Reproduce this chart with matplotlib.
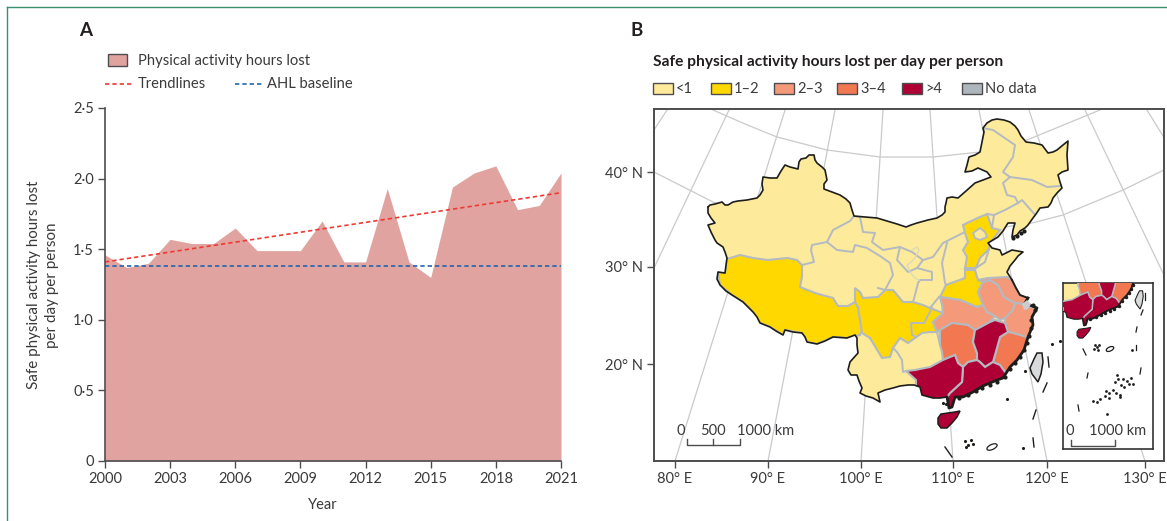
import matplotlib
matplotlib.use('Agg')
import matplotlib.pyplot as plt
from matplotlib.patches import Polygon, Rectangle, Ellipse

plt.rcParams['font.family'] = ['Lato', 'DejaVu Sans']

W, H = 1167, 521
TXT = '#3a3a3c'
AX = '#4d4d4f'
BORDER = '#B3BAC2'
BLACK = '#1d1d1b'

# ---- panel A data
years = list(range(2000, 2022))
hours_lost = [1.46, 1.37, 1.40, 1.57, 1.54, 1.54, 1.65, 1.49, 1.49, 1.49, 1.70,
              1.41, 1.41, 1.93, 1.41, 1.30, 1.94, 2.04, 2.09, 1.78, 1.81, 2.04]
trend_years = [2000, 2021]
trend_vals = [1.41, 1.90]
baseline_val = 1.38
a_xticks = [2000, 2003, 2006, 2009, 2012, 2015, 2018, 2021]
a_yticks = [0, 0.5, 1.0, 1.5, 2.0, 2.5]
a_ylabels = ['0', '0·5', '1·0', '1·5', '2·0', '2·5']

# ---- panel B legend
bin_labels = ['<1', '1–2', '2–3', '3–4', '>4', 'No data']
bin_colors = ['#FDEA9B', '#FFD800', '#F4997A', '#F27851', '#AF0036', '#AEB6BD']

# ---- map geometry in projected map units
north_border = [(708,207),(710,205),(715,204),(722,202),(725,205),(728,205),(733,202),(738,201),(747,200),(757,198),
    (760,195),(763,190),(762,184),(763,177),(770,178),(777,178),(781,171),(785,165),(790,167),(798,169),
    (799,162),(801,159),(806,158),(809,155),(814,155),(815,160),(817,163),(822,167),(825,170),(827,180),
    (824,184),(824,189),(832,192),(840,195),(846,199),(850,203),(852,210),(854,216),(865,217),(877,218),
    (887,221),(897,224),(906,227),(911,225),(917,223),(928,220),(937,218),(942,215),(945,212),(945,207),
    (946,203),(947,198),(952,197),(958,198),(966,191),(975,183),(983,180),(991,177),(987,172),(978,168),
    (972,171),(965,172),(967,165),(969,157),(975,155),(980,152),(982,142),(984,132),(983,128),(987,123),
    (992,120),(997,119),(1004,120),(1010,122),(1015,126),(1018,130),(1021,136),(1026,142),(1034,143),(1042,145),
    (1048,153),(1053,152),(1057,150),(1063,145),(1068,141),(1067,155),(1068,170),(1062,172),(1058,175),(1060,182),
    (1062,188),(1057,193),(1053,198),(1051,203),(1048,207),(1040,208),(1036,214),(1033,218),(1028,225),(1025,228),
    (1020,231),(1017,235),(1012,237),(1013,230),(1015,223),(1008,223),(1003,231),(998,237),(988,243),(992,248),
    (1000,250),(1002,255),(1012,250),(1023,252),(1018,256),(1015,260),(1010,266),(1007,272),(1012,280)]
jiangsu_coast = [(1012,280),(1016,288),(1020,295),(1028,298)]
se_coast = [(1028,298),(1025,303),(1037,308),(1032,317),(1033,325),(1028,337),(1024,350),(1017,360),
    (1010,367),(1003,378),(997,380),(983,386),(973,392),(963,397),(955,397),(952,407),(949,408),(947,397)]
south_border = [(947,397),(940,398),(933,398),(922,395),(920,387),(914,385),(908,385),(900,386),(893,388),(885,390),
    (878,393),(880,402),(873,398),(866,396),(860,393),(862,388),(859,381),(857,375),(851,375),(848,370),
    (850,362),(858,353),(857,345),(857,338),(855,335),(847,338),(833,337),(825,341),(817,344),(807,342),
    (805,337),(802,333),(793,332),(785,330),(783,335),(776,331),(770,327),(760,323),(757,317),(753,312),
    (743,302),(732,295),(726,291),(720,285),(717,279),(718,272),(725,273),(726,265),(727,258),(725,252),
    (723,247),(717,243),(715,240),(711,232),(708,225),(715,223),(711,218),(708,213),(708,207)]
taiwan = [(1042,353),(1037,353),(1034,359),(1030,368),(1032,374),(1035,378),(1038,382),(1041,374),(1043,362)]
hainan = [(938,418),(941,414),(948,413),(955,412),(960,411),(957,417),(952,423),(947,428),(941,428),(938,424)]
shanghai = [(1022,304),(1027,300),(1031,304),(1028,309),(1024,310)]

xizang = [(727,259),(740,255),(753,258),(768,260),(787,258),(797,260),(802,265),(802,277),(800,287),(815,293),
    (833,298),(838,306),(848,306),(855,302),(858,307),(862,330),(860,335),(847,338),(833,337),(817,344),
    (807,342),(802,333),(785,330),(783,335),(770,327),(760,323),(753,312),(743,302),(732,295),(720,285),(718,272),(725,273)]
sichuan = [(855,288),(860,292),(863,298),(878,297),(885,290),(893,290),(903,302),(913,302),(923,305),(930,308),
    (943,313),(933,322),(937,332),(930,332),(922,333),(908,343),(900,338),(893,348),(890,357),(882,358),
    (870,338),(862,333),(858,307),(855,302)]
hebei = [(967,223),(980,217),(987,214),(992,228),(1000,230),(990,243),(989,249),(980,258),(976,268),(965,268),
    (967,257),(963,250),(968,242),(965,233),(963,225)]
beijing = [(973,233),(980,228),(985,232),(987,237),(980,240),(975,238)]
henan = [(965,270),(975,270),(978,280),(983,282),(978,292),(983,305),(977,307),(960,300),(940,297),(946,285),(965,278)]
hubei = [(940,297),(960,300),(977,307),(983,305),(987,312),(995,316),(990,322),(975,330),(968,325),(952,323),
    (940,330),(937,332),(933,322),(943,313),(942,305)]
anhui = [(983,282),(990,280),(998,285),(1004,297),(1015,303),(1013,310),(1005,318),(1000,320),(995,316),(987,312),
    (983,305),(978,292)]
jiangsu = [(978,280),(988,278),(1007,277),(1012,280),(1020,295),(1040,300),(1023,304),(1015,303),(1004,297),(998,285),(990,280),(983,282)]
zhejiang = [(1015,303),(1023,304),(1040,310),(1040,330),(1025,338),(1013,333),(1008,332),(1005,323),(1005,318),(1013,310)]
hunan = [(940,330),(952,323),(968,325),(975,330),(973,342),(977,353),(977,360),(968,362),(963,367),(958,363),
    (955,355),(943,360),(942,352),(940,345)]
jiangxi = [(975,330),(990,322),(995,320),(1005,323),(1008,332),(1000,337),(997,348),(993,362),(985,367),(980,362),
    (977,360),(977,353),(973,342)]
fujian = [(1008,332),(1013,333),(1030,338),(1030,355),(1008,378),(1005,372),(1000,365),(993,362),(997,348),(1000,337)]
guangdong = [(963,367),(968,362),(977,360),(980,362),(985,367),(993,362),(1000,365),(1005,372),(1012,378),(985,395),
    (965,402),(955,412),(947,412),(947,397),(950,393),(962,382)]
guangxi = [(906,371),(915,370),(930,367),(943,360),(955,355),(958,363),(963,367),(962,382),(950,393),(947,397),
    (947,405),(925,405),(916,392),(916,380)]

province_fills = [(xizang, 1), (sichuan, 1), (hebei, 1), (henan, 1), (hubei, 2), (anhui, 2), (jiangsu, 2),
                  (zhejiang, 2), (hunan, 3), (fujian, 3), (jiangxi, 4), (guangdong, 4), (guangxi, 4)]

# borders between provinces of the lightest class
inner_borders = [
    [(802,265),(814,262),(811,250),(812,245),(827,242),(833,230),(850,221),(854,216)],
    [(827,242),(837,250),(853,252),(855,245),(867,248),(880,256),(890,263),(893,275),(885,290)],
    [(878,288),(885,290)],
    [(854,216),(860,217),(863,232),(875,233),(872,242),(883,250),(900,247),(897,260),(908,272),(917,268),
     (932,272),(932,280),(920,280),(918,283),(915,295),(913,302)],
    [(923,260),(933,257),(943,243),(963,233)],
    [(900,247),(912,252),(923,260),(917,268)],
    [(947,243),(942,263),(945,283),(946,285)],
    [(930,308),(939,297)],
    [(989,249),(985,262),(976,268)],
    [(992,228),(994,215),(987,214)],
    [(994,215),(1005,210),(1018,203),(1022,200),(1037,217)],
    [(1018,203),(1015,197),(1007,195),(1003,183),(1010,177),(1032,180),(1047,187),(1060,186)],
    [(1010,177),(1003,172),(1013,157),(1015,145),(993,130),(983,128)],
    [(893,348),(897,352),(902,360),(903,372),(906,371)],
    [(932,308),(924,323),(911,323),(912,335),(916,337)],
    [(940,345),(937,332)],
]
ningxia = [(912,250),(917,247),(919,250),(915,258),(910,263),(907,265),(910,272),(915,278),(919,280)]

# meridians and parallels
meridians = [[(667,110),(654,130)], [(729,110),(654,268)], [(785,110),(675,461)], [(835,110),(768,461)],
             [(883,110),(861,461)], [(930,110),(953,461)], [(979,110),(1047,461)], [(1029,110),(1145,461)],
             [(1085,110),(1163,273)], [(1147,110),(1163,136)]]
parallels = [[(713,110),(745,124),(777,137),(827,150),(880,157),(933,157),(980,152),(1027,140),(1100,110)],
             [(654,172),(713,202),(802,229),(917,240),(1032,223),(1063,215),(1123,190),(1164,170)]]
map_xticks = [675, 768, 861, 953, 1047, 1145]
map_xlabels = ['80° E', '90° E', '100° E', '110° E', '120° E', '130° E']
map_yticks = [172, 267, 364]
map_ylabels = ['40° N', '30° N', '20° N']

# small islands
dashes = [[(1048,357),(1049,367)], [(1047,383),(1043,392)], [(1036,410),(1033,419)], [(1033,438),(1034,447)], [(945,447),(952,457)]]
island_dots = [(1007,399),(1052,344),(1060,341),(1025,371),(1023,448),(965,441),(968,445),(971,440),(966,447),(973,444),(943,403),(946,404)]
coast_islets = [(1033,305),(1035,310),(1031,320),(1031,328),(1029,336),(1027,343),(1024,350),(1020,357),(1015,363),(1010,369),
                (1005,377),(997,382),(990,385),(982,388),(976,391),(968,395),(959,398),(1013,238),(1017,236),(1021,233),(1024,231)]
inset_dashes = [[(1145,293),(1145,300)], [(1143,310),(1141,315)], [(1137,327),(1136,332)], [(1136,345),(1136,350)],
                [(1141,368),(1140,374)], [(1088,373),(1087,378)], [(1083,349),(1086,355)], [(1078,405),(1079,411)]]
inset_dots = [(1097,347),(1095,345),(1099,345),(1094,349),(1098,350),(1117,375),(1115,382),(1118,379),(1123,379),(1127,381),
              (1131,378),(1129,384),(1124,387),(1113,390),(1109,393),(1105,396),(1100,399),(1109,398),(1097,402),(1093,401),
              (1116,393),(1120,395),(1121,385),(1133,384),(1106,391),(1107,414),(1132,350),(1120,397)]


def xs(pts):
    return [p[0] for p in pts]

def ys(pts):
    return [p[1] for p in pts]

def draw_map(ax, scale=1.0):
    land = Polygon(north_border + jiangsu_coast[1:] + se_coast[1:] + south_border[1:], closed=True,
                   fc=bin_colors[0], ec='none', zorder=2)
    ax.add_patch(land)
    for poly, cls in province_fills:
        p = Polygon(poly, closed=True, fc=bin_colors[cls], ec=BORDER, lw=1.5*scale, zorder=3)
        ax.add_patch(p)
        p.set_clip_path(land)
    ax.add_patch(Polygon(beijing, closed=True, fc=bin_colors[0], ec=BORDER, lw=1.3*scale, zorder=3))
    for seg in inner_borders:
        ln, = ax.plot(xs(seg), ys(seg), color=BORDER, lw=1.4*scale, zorder=3, solid_joinstyle='round')
        ln.set_clip_path(land)
    ax.plot(xs(ningxia), ys(ningxia), color='#DADBB8', lw=1.0*scale, zorder=3)
    ax.plot(xs(north_border), ys(north_border), color=BLACK, lw=1.2*scale, zorder=4)
    ax.plot(xs(jiangsu_coast), ys(jiangsu_coast), color=BLACK, lw=1.4*scale, zorder=4)
    ax.plot(xs(south_border), ys(south_border), color=BLACK, lw=1.2*scale, zorder=4)
    ax.plot(xs(se_coast), ys(se_coast), color=BLACK, lw=2.0*scale, zorder=4)
    ax.scatter(xs(coast_islets), ys(coast_islets), s=9*scale, color=BLACK, lw=0, zorder=4)
    ax.add_patch(Polygon(shanghai, closed=True, fc='#C9CDD1', ec='none', zorder=4))
    ax.add_patch(Polygon(taiwan, closed=True, fc='#D9DADB', ec=BLACK, lw=1.1*scale, zorder=4))
    ax.add_patch(Polygon(hainan, closed=True, fc=bin_colors[4], ec=BLACK, lw=1.1*scale, zorder=4))


fig = plt.figure(figsize=(W/100, H/100), dpi=100)

def place(left, top, right, bottom):
    return [left/W, 1-bottom/H, (right-left)/W, (bottom-top)/H]

# panel A
ax = fig.add_axes(place(105, 108, 561, 461))
ax.fill_between(years, hours_lost, 0, color='#E0A3A0', lw=0)
ax.plot(trend_years, trend_vals, color='#EE3A34', lw=1.2, dashes=(2.6, 1.8))
ax.plot([years[0], years[-1]], [baseline_val, baseline_val], color='#2166AC', lw=1.2, dashes=(2.6, 1.8))
ax.set_xlim(2000, 2021)
ax.set_ylim(0, 2.5)
ax.set_xticks(a_xticks)
ax.set_yticks(a_yticks)
ax.set_yticklabels(a_ylabels)
ax.tick_params(length=5, width=1, color=AX, labelcolor=TXT, labelsize=10.5, pad=3)
for s in ['top', 'right']:
    ax.spines[s].set_visible(False)
for s in ['left', 'bottom']:
    ax.spines[s].set_color(AX)
    ax.spines[s].set_linewidth(1.2)

# panel B
mp = fig.add_axes(place(654, 109, 1164, 461))
for seg in meridians + parallels:
    mp.plot(xs(seg), ys(seg), color='#C9CACB', lw=0.9, zorder=1)
draw_map(mp)
for seg in dashes:
    mp.plot(xs(seg), ys(seg), color=BLACK, lw=1.0, zorder=4)
mp.scatter(xs(island_dots), ys(island_dots), s=5, color=BLACK, lw=0, zorder=4)
mp.add_patch(Ellipse((992, 447), 11, 5, angle=-25, fc='white', ec=BLACK, lw=0.9, zorder=4))
mp.set_xlim(654, 1164)
mp.set_ylim(461, 109)
mp.set_xticks(map_xticks)
mp.set_xticklabels(map_xlabels)
mp.set_yticks(map_yticks)
mp.set_yticklabels(map_ylabels)
mp.tick_params(length=5, width=1, color=AX, labelcolor=TXT, labelsize=10.5, pad=3)
for s in mp.spines.values():
    s.set_color(AX)
    s.set_linewidth(1.4)

# inset
ins = fig.add_axes(place(1063, 283, 1153, 449), zorder=3)
draw_map(ins, 0.7)
ins.set_xlim(915.7, 1058.5)
ins.set_ylim(604, 340.6)
ins.set_xticks([])
ins.set_yticks([])
for s in ins.spines.values():
    s.set_color('#333333')
    s.set_linewidth(1.2)

# everything placed by pixel: legends, labels, scale bars, frame
ov = fig.add_axes([0, 0, 1, 1], zorder=5)
ov.set_xlim(0, W)
ov.set_ylim(H, 0)
ov.axis('off')
ov.patch.set_alpha(0)

for seg in inset_dashes:
    ov.plot(xs(seg), ys(seg), color=BLACK, lw=0.9)
ov.scatter(xs(inset_dots), ys(inset_dots), s=4, color=BLACK, lw=0)
ov.add_patch(Ellipse((1110, 349), 8, 4, angle=-25, fc='white', ec=BLACK, lw=0.9))

FRAME = '#3C8F6C'
ov.plot([7, 7], [H, 7], color=FRAME, lw=1.0)
ov.plot([7, W], [7, 7], color=FRAME, lw=1.0)

ov.text(79, 31, 'A', fontsize=13.5, fontweight='bold', color='#231f20', va='center')
ov.text(630, 31, 'B', fontsize=13.5, fontweight='bold', color='#231f20', va='center')

ov.add_patch(Rectangle((108, 54), 19, 12, fc='#E0A3A0', ec=AX, lw=1.0))
ov.text(138, 61, 'Physical activity hours lost', fontsize=10.6, color=TXT, va='center')
ov.plot([105, 133], [84, 84], color='#EE3A34', lw=1.2, dashes=(2.6, 1.8))
ov.text(138, 84, 'Trendlines', fontsize=10.6, color=TXT, va='center')
ov.plot([235, 262], [84, 84], color='#2166AC', lw=1.2, dashes=(2.6, 1.8))
ov.text(267, 84, 'AHL baseline', fontsize=10.6, color=TXT, va='center')

ov.text(43, 285, 'Safe physical activity hours lost\nper day per person', fontsize=10.9, color=TXT,
        rotation=90, ha='center', va='center', linespacing=1.3)
ov.text(323, 505, 'Year', fontsize=10.5, color=TXT, ha='center', va='center')

ov.text(653, 62, 'Safe physical activity hours lost per day per person', fontsize=11.2, fontweight='bold',
        color='#231f20', va='center')
sw_left = [653, 711, 774, 837, 902, 962]
for x0, lab, col in zip(sw_left, bin_labels, bin_colors):
    ov.add_patch(Rectangle((x0, 83), 19.5, 11, fc=col, ec=AX, lw=1.0))
    ov.text(x0+23, 89, lab, fontsize=10.5, color=TXT, va='center')

# scale bars
for seg in [[(687, 439), (687, 445), (740, 445), (740, 439)], [(713, 439), (713, 445)]]:
    ov.plot(xs(seg), ys(seg), color=AX, lw=1.0)
ov.text(681, 431, '0', fontsize=10.5, color=TXT, ha='center', va='center')
ov.text(713, 431, '500', fontsize=10.5, color=TXT, ha='center', va='center')
ov.text(737, 431, '1000 km', fontsize=10.5, color=TXT, ha='left', va='center')
ov.plot([1071, 1071, 1115, 1115], [440, 446, 446, 440], color=AX, lw=1.0)
ov.text(1070, 431, '0', fontsize=10.5, color=TXT, ha='center', va='center')
ov.text(1089, 431, '1000 km', fontsize=10.5, color=TXT, ha='left', va='center')

fig.savefig('out.png', dpi=100)
